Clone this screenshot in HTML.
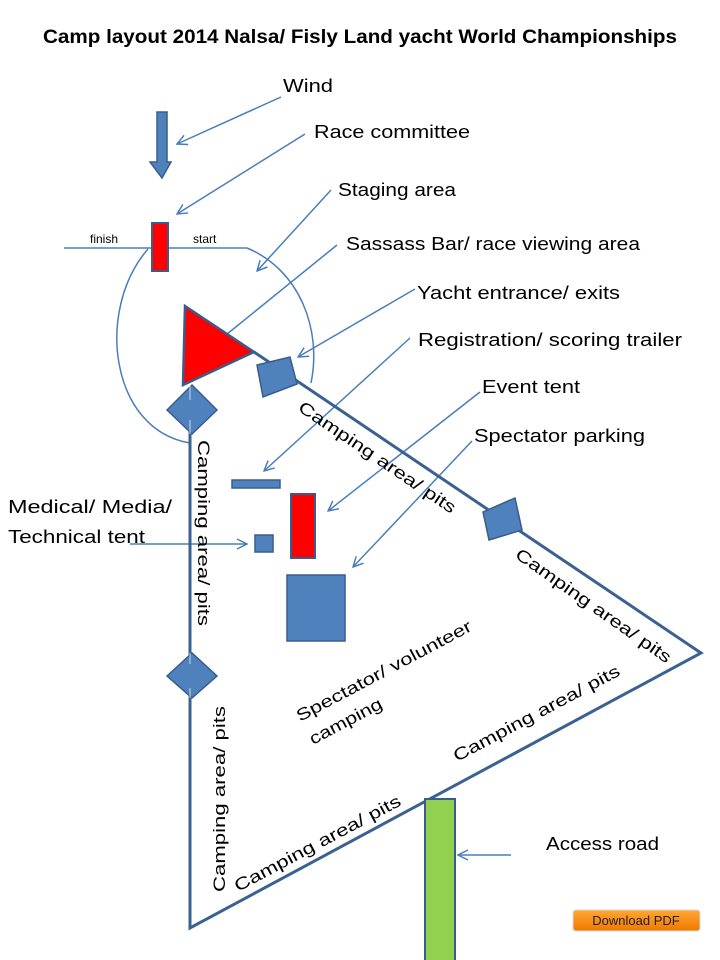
<!DOCTYPE html>
<html><head><meta charset="utf-8"><style>
html,body{margin:0;padding:0;background:#fff;}
svg{display:block;}
text{font-family:"Liberation Sans",sans-serif;fill:#000;}
</style></head><body>
<svg width="720" height="960" viewBox="0 0 720 960" xmlns="http://www.w3.org/2000/svg">
<defs>
<marker id="ah" markerWidth="12" markerHeight="12" refX="11" refY="6" orient="auto" markerUnits="userSpaceOnUse">
<path d="M1,1 L11,6 L1,11" fill="none" stroke="#4a7ebb" stroke-width="1.5"/>
</marker>
<linearGradient id="og" x1="0" y1="0" x2="0" y2="1"><stop offset="0" stop-color="#ffa733"/><stop offset="1" stop-color="#f07800"/></linearGradient>
</defs>
<text x="360" y="43" text-anchor="middle" font-size="19" font-weight="bold" textLength="634" lengthAdjust="spacingAndGlyphs">Camp layout 2014 Nalsa/ Fisly Land yacht World Championships</text>

<g font-size="18">
<text x="283" y="92" textLength="50" lengthAdjust="spacingAndGlyphs">Wind</text>
<text x="314" y="138" textLength="156" lengthAdjust="spacingAndGlyphs">Race committee</text>
<text x="338" y="196" textLength="118" lengthAdjust="spacingAndGlyphs">Staging area</text>
<text x="346" y="250" textLength="294" lengthAdjust="spacingAndGlyphs">Sassass Bar/ race viewing area</text>
<text x="417" y="299" textLength="203" lengthAdjust="spacingAndGlyphs">Yacht entrance/ exits</text>
<text x="418" y="346" textLength="264" lengthAdjust="spacingAndGlyphs">Registration/ scoring trailer</text>
<text x="482" y="393" textLength="98" lengthAdjust="spacingAndGlyphs">Event tent</text>
<text x="474" y="442" textLength="171" lengthAdjust="spacingAndGlyphs">Spectator parking</text>
<text x="8" y="513" textLength="164" lengthAdjust="spacingAndGlyphs">Medical/ Media/</text>
<text x="8" y="543" textLength="137" lengthAdjust="spacingAndGlyphs">Technical tent</text>
<text x="546" y="850" textLength="113" lengthAdjust="spacingAndGlyphs">Access road</text>
</g>

<g stroke="#4a7ebb" stroke-width="1.5" fill="none" marker-end="url(#ah)">
<line x1="281" y1="97" x2="177" y2="144"/>
<line x1="305" y1="134" x2="177" y2="214"/>
<line x1="331" y1="190" x2="257" y2="271"/>
<line x1="337" y1="245" x2="216" y2="343"/>
<line x1="415" y1="289" x2="298" y2="357"/>
<line x1="410" y1="338" x2="264" y2="471"/>
<line x1="480" y1="392" x2="328" y2="511"/>
<line x1="472" y1="441" x2="353" y2="567"/>
<line x1="130" y1="544" x2="247" y2="544"/>
<line x1="511" y1="855" x2="458" y2="855"/>
</g>

<g stroke="#4a7ebb" stroke-width="1.5" fill="none">
<line x1="64" y1="248" x2="247" y2="248"/>
<path d="M148,249 C95,310 110,430 190,443"/>
<path d="M247,248 C300,270 322,330 311,383"/>
</g>
<text x="90" y="243" font-size="12">finish</text>
<text x="193" y="243" font-size="12">start</text>

<path d="M157,112 H167 V162 H171 L162,178 L150,162 H157 Z" fill="#4f81bd" stroke="#385d8a" stroke-width="1.5"/>

<rect x="152" y="223" width="16" height="48" fill="#ff0000" stroke="#385d8a" stroke-width="2"/>

<g stroke="#3a6190" stroke-width="3" fill="none">
<polyline points="190,430 190,928 701,653 254,352"/>
</g>

<rect x="425" y="799" width="30" height="170" fill="#92d050" stroke="#385d8a" stroke-width="2"/>

<polygon points="185,306 254,352 183,385" fill="#ff0000" stroke="#385d8a" stroke-width="2.5"/>

<g fill="#4f81bd" stroke="#385d8a" stroke-width="1.5">
<polygon points="167,410 192,385 217,410 192,434"/>
<polygon points="257,365 290,357 297,384 263,397"/>
<polygon points="483,512 515,498 522,530 489,540"/>
<polygon points="167,676 192,653 217,676 192,698"/>
</g>
<g stroke="#fff" stroke-width="1" opacity="0.7">
<line x1="190" y1="385" x2="190" y2="400"/><line x1="190" y1="420" x2="190" y2="434"/>
<line x1="190" y1="653" x2="190" y2="664"/><line x1="190" y1="688" x2="190" y2="698"/>
</g>

<g fill="#4f81bd" stroke="#385d8a" stroke-width="1.5">
<rect x="232" y="480" width="48" height="8"/>
<rect x="255" y="535" width="18" height="17"/>
<rect x="287" y="575" width="58" height="66"/>
</g>
<rect x="291" y="494" width="24" height="64" fill="#ff0000" stroke="#385d8a" stroke-width="2"/>

<g font-size="17">
<text transform="translate(198,440) rotate(90)" textLength="186" lengthAdjust="spacingAndGlyphs">Camping area/ pits</text>
<text transform="translate(225,892) rotate(-90)" textLength="186" lengthAdjust="spacingAndGlyphs">Camping area/ pits</text>
<text transform="translate(297,410) rotate(34)" textLength="186" lengthAdjust="spacingAndGlyphs">Camping area/ pits</text>
<text transform="translate(514,557) rotate(35)" textLength="186" lengthAdjust="spacingAndGlyphs">Camping area/ pits</text>
<text transform="translate(457,762) rotate(-28)" textLength="186" lengthAdjust="spacingAndGlyphs">Camping area/ pits</text>
<text transform="translate(238,892) rotate(-28)" textLength="186" lengthAdjust="spacingAndGlyphs">Camping area/ pits</text>
<text transform="translate(300,722) rotate(-28)" textLength="196" lengthAdjust="spacingAndGlyphs">Spectator/ volunteer</text>
<text transform="translate(313,745) rotate(-28)" textLength="80" lengthAdjust="spacingAndGlyphs">camping</text>
</g>

<rect x="573" y="910" width="127" height="21" rx="3" fill="url(#og)" stroke="#d9d9d9" stroke-width="1"/>
<text x="636" y="925" font-size="13" text-anchor="middle" style="fill:#222">Download PDF</text>
</svg>
</body></html>
